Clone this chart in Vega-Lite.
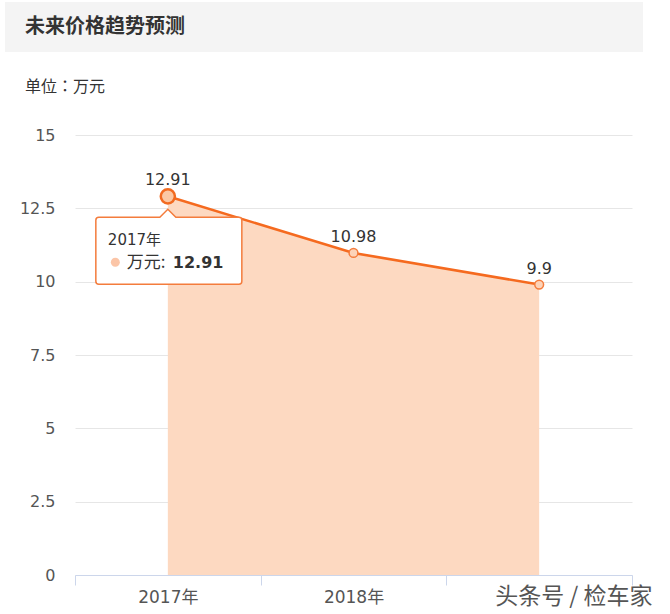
{
  "$schema": "https://vega.github.io/schema/vega-lite/v6.json",
  "padding": {"left": 5, "top": 2, "right": 15, "bottom": 4},
  "background": "white",
  "config": {
    "view": {"stroke": null},
    "font": "DejaVu Sans, Noto Sans CJK SC"
  },
  "datasets": {
    "prices": [
      {"year": "2017年", "price": 12.91},
      {"year": "2018年", "price": 10.98},
      {"year": "2019年", "price": 9.9}
    ],
    "header": [{"title": "未来价格趋势预测"}]
  },
  "columns": 1,
  "align": "none",
  "spacing": 27,
  "concat": [
    {
      "width": 568,
      "height": 50,
      "data": {"name": "header"},
      "encoding": {
        "x": {"datum": 0, "type": "quantitative", "scale": {"domain": [0, 1]}, "axis": null}
      },
      "layer": [
        {
          "mark": {"type": "rect", "color": "#f4f4f4", "xOffset": -70},
          "encoding": {"x2": {"datum": 1}}
        },
        {
          "mark": {"type": "text", "align": "left", "baseline": "middle", "dx": -50, "fontSize": 20, "fontWeight": "bold", "color": "#333333", "font": "Noto Sans CJK SC"},
          "encoding": {"text": {"field": "title"}}
        }
      ]
    },
    {
      "width": 557,
      "height": 440,
      "title": {"text": "单位：万元", "anchor": "start", "frame": "group", "dx": -50, "offset": 32, "fontSize": 16, "fontWeight": "normal", "color": "#333333", "font": "Noto Sans CJK JP"},
      "data": {"name": "prices"},
      "encoding": {
        "x": {
          "field": "year", "type": "nominal", "bandPosition": 0.5,
          "scale": {"type": "band", "paddingInner": 0, "paddingOuter": 0},
          "axis": {
            "title": null, "tickBand": "extent", "domainColor": "#ccd6eb", "tickColor": "#ccd6eb",
            "tickSize": 10, "labelAngle": 0, "labelFontSize": 17, "labelColor": "#555555",
            "labelPadding": 4, "grid": false,
            "labelExpr": "datum.value == '2019年' ? '' : datum.label"
          }
        },
        "y": {
          "field": "price", "type": "quantitative",
          "scale": {"domain": [0, 15], "nice": false},
          "axis": {
            "values": [0, 2.5, 5, 7.5, 10, 12.5, 15], "format": ".1~f", "title": null, "domain": false, "ticks": false,
            "labelPadding": 20, "labelFontSize": 16, "labelColor": "#555555", "gridColor": "#e6e6e6",
            "minExtent": 70
          }
        }
      },
      "layer": [
        {"mark": {"type": "area", "color": "#fdd9c1", "opacity": 1}},
        {"mark": {"type": "line", "color": "#f56a1f", "strokeWidth": 2.5}},
        {
          "transform": [{"filter": "datum.year == '2017年'"}],
          "mark": {"type": "point", "shape": "M-69,21 L-8,21 L0,13 L8,21 L71,21 Q74,21 74,24 L74,85 Q74,88 71,88 L-69,88 Q-72,88 -72,85 L-72,24 Q-72,21 -69,21 Z", "size": 4, "filled": true, "fill": "#ffffff", "stroke": "#f47c3c", "strokeWidth": 1.5, "opacity": 1}
        },
        {
          "transform": [{"filter": "datum.year == '2017年'"}],
          "mark": {"type": "point", "shape": "M-48,66 A4.5,4.5 0 1,1 -57,66 A4.5,4.5 0 1,1 -48,66 Z", "size": 4, "filled": true, "fill": "#fbc5a7", "opacity": 1}
        },
        {
          "transform": [{"filter": "datum.year == '2017年'"}],
          "mark": {"type": "text", "align": "left", "baseline": "middle", "dx": -60, "dy": 44, "fontSize": 15, "color": "#333333"},
          "encoding": {"text": {"field": "year"}}
        },
        {
          "transform": [{"filter": "datum.year == '2017年'"}],
          "mark": {"type": "text", "align": "left", "baseline": "middle", "dx": -41, "dy": 67, "fontSize": 17, "color": "#333333", "font": "Noto Sans CJK SC"},
          "encoding": {"text": {"value": "万元:"}}
        },
        {
          "transform": [{"filter": "datum.year == '2017年'"}],
          "mark": {"type": "text", "align": "left", "baseline": "middle", "dx": 5, "dy": 67, "fontSize": 16, "fontWeight": "bold", "color": "#333333"},
          "encoding": {"text": {"field": "price"}}
        },
        {
          "mark": {"type": "point", "filled": true, "opacity": 1},
          "encoding": {
            "size": {"condition": {"test": "datum.year == '2017年'", "value": 200}, "value": 78},
            "fill": {"condition": {"test": "datum.year == '2017年'", "value": "#fbc8a4"}, "value": "#fdd3b8"},
            "stroke": {"condition": {"test": "datum.year == '2017年'", "value": "#f26b21"}, "value": "#f47c3c"},
            "strokeWidth": {"condition": {"test": "datum.year == '2017年'", "value": 2.5}, "value": 1.5}
          }
        },
        {
          "mark": {"type": "text", "baseline": "middle", "dy": -16, "fontSize": 16, "color": "#333333"},
          "encoding": {"text": {"field": "price"}}
        },
        {
          "transform": [{"filter": "datum.year == '2019年'"}],
          "mark": {"type": "text", "align": "left", "baseline": "middle", "dx": -44, "dy": 22, "fontSize": 23, "color": "#555555", "font": "Noto Sans CJK SC"},
          "encoding": {"y": {"datum": 0, "type": "quantitative"}, "text": {"value": "头条号 / 检车家"}}
        }
      ]
    }
  ]
}
